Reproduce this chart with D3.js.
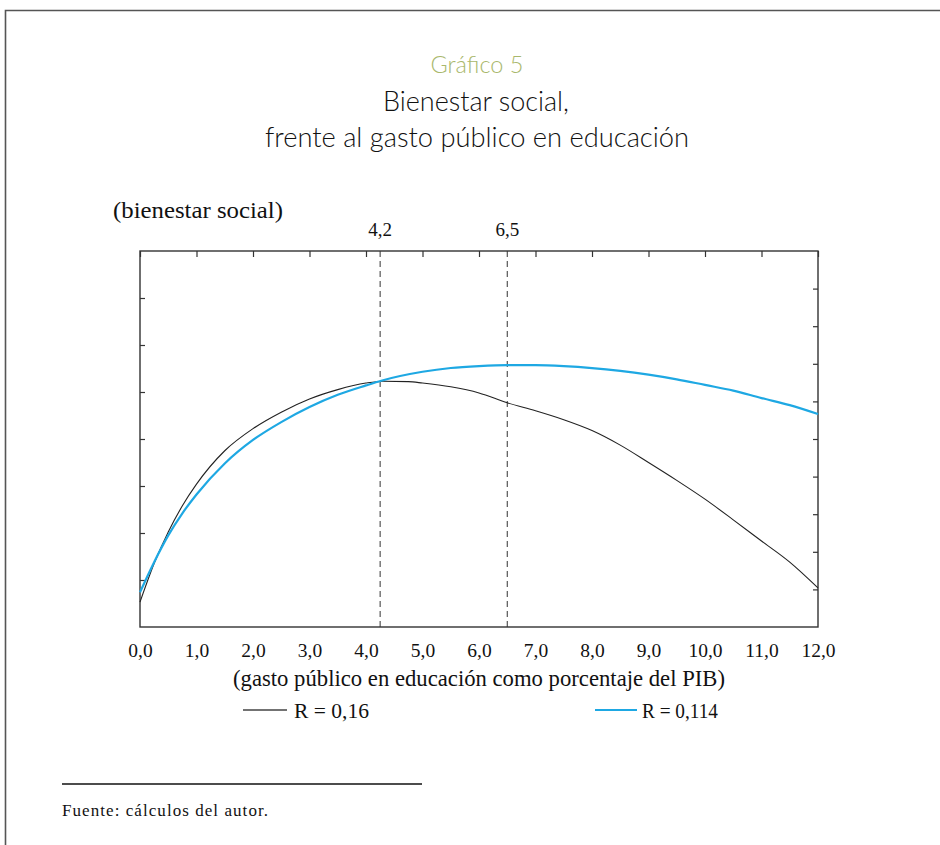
<!DOCTYPE html>
<html><head><meta charset="utf-8">
<script src="https://cdn.jsdelivr.net/npm/d3@7"></script>
<style>
html,body{margin:0;padding:0;background:#fff;}
svg{display:block;}
.serif{font-family:"Liberation Serif","Times New Roman",serif;fill:#111;}
.sans{font-family:Lato,"Open Sans",sans-serif;}
</style></head>
<body>
<script>
// ---- data ----
const xTickValues = [0,1,2,3,4,5,6,7,8,9,10,11,12];
const xTickLabels = ["0,0","1,0","2,0","3,0","4,0","5,0","6,0","7,0","8,0","9,0","10,0","11,0","12,0"];
const refLinePositions = [4.25, 6.5];
const refLineLabels = ["4,2", "6,5"];
const seriesNames = ["R = 0,16", "R = 0,114"];
const blackX = [0,0.25,0.5,0.75,1.0,1.5,2.0,2.5,3.0,3.5,4.0,4.3,4.75,5.0,5.5,6.0,6.5,7.0,7.5,8.0,8.5,9.0,9.5,10.0,10.5,11.0,11.5,12.0];
const blackY = [0.53,1.35,2.02,2.58,3.04,3.75,4.22,4.57,4.85,5.05,5.19,5.23,5.22,5.19,5.11,4.98,4.77,4.60,4.41,4.18,3.87,3.50,3.12,2.72,2.28,1.83,1.38,0.83];
const blueX = [0,0.25,0.5,0.75,1.0,1.5,2.0,2.5,3.0,3.5,4.0,4.27,5.0,5.5,6.0,6.5,7.0,7.5,8.0,8.5,9.0,9.5,10.0,10.5,11.0,11.5,12.0];
const blueY = [0.74,1.38,1.95,2.42,2.82,3.48,3.98,4.36,4.68,4.94,5.14,5.24,5.43,5.51,5.55,5.57,5.57,5.55,5.51,5.45,5.37,5.27,5.15,5.03,4.87,4.72,4.53];
const leftTicks = [1,2,3,4,5,6,7];
const rightTicks = [1,2,3,4,5,6,7,8,9];

// ---- layout ----
const W = 940, H = 845;
const L = 140, R = 818, T = 251, B = 627;
const svg = d3.select("body").append("svg").attr("width", W).attr("height", H);

// page border (top + left)
svg.append("path").attr("d", `M5.5,${H} V10.5 H${W}`).attr("fill","none").attr("stroke","#555").attr("stroke-width",1.6);

// titles
svg.append("text").attr("class","sans").attr("x",477).attr("y",73).attr("text-anchor","middle")
  .attr("font-size",23.5).attr("font-weight",300).attr("fill","#a9b86c").text("Gráfico 5");
svg.append("text").attr("class","sans").attr("x",476).attr("y",111).attr("text-anchor","middle")
  .attr("font-size",27).attr("font-weight",300).attr("fill","#111")
  .attr("textLength",186).attr("lengthAdjust","spacingAndGlyphs").text("Bienestar social,");
svg.append("text").attr("class","sans").attr("x",477).attr("y",147).attr("text-anchor","middle")
  .attr("font-size",27).attr("font-weight",300).attr("fill","#111")
  .attr("textLength",424).attr("lengthAdjust","spacingAndGlyphs").text("frente al gasto público en educación");

// scales
const x = d3.scaleLinear().domain([0,12]).range([L,R]);
const y = d3.scaleLinear().domain([0,8]).range([B,T]);
const yR = d3.scaleLinear().domain([0,10]).range([B,T]);

// y label
svg.append("text").attr("class","serif").attr("x",113).attr("y",218).attr("font-size",22.5)
  .attr("textLength",170).attr("lengthAdjust","spacingAndGlyphs").text("(bienestar social)");

// frame
svg.append("rect").attr("x",L).attr("y",T).attr("width",R-L).attr("height",B-T)
  .attr("fill","none").attr("stroke","#333").attr("stroke-width",1.4);

// top ticks (inward)
const gTop = svg.append("g").attr("transform",`translate(0,${T})`)
  .call(d3.axisTop(x).tickValues(xTickValues).tickSize(-6).tickFormat(""));
gTop.select(".domain").remove();
gTop.selectAll("line").attr("stroke","#333").attr("stroke-width",1.2);

// left ticks
const gLeft = svg.append("g").attr("transform",`translate(${L},0)`)
  .call(d3.axisLeft(y).tickValues(leftTicks).tickSize(-5).tickFormat(""));
gLeft.select(".domain").remove();
gLeft.selectAll("line").attr("stroke","#333").attr("stroke-width",1.2);

// right ticks
const gRight = svg.append("g").attr("transform",`translate(${R},0)`)
  .call(d3.axisRight(yR).tickValues(rightTicks).tickSize(-5).tickFormat(""));
gRight.select(".domain").remove();
gRight.selectAll("line").attr("stroke","#333").attr("stroke-width",1.2);

// bottom labels
const gBot = svg.append("g").attr("transform",`translate(0,${B})`)
  .call(d3.axisBottom(x).tickValues(xTickValues).tickSize(0).tickPadding(16)
    .tickFormat((d,i)=>xTickLabels[i]));
gBot.select(".domain").remove();
gBot.selectAll("text").attr("class","serif").attr("font-size",19.5).attr("fill","#111");

// reference lines
refLinePositions.forEach((v,i)=>{
  svg.append("line").attr("x1",x(v)).attr("x2",x(v)).attr("y1",T).attr("y2",B)
    .attr("stroke","#333").attr("stroke-width",1).attr("stroke-dasharray","6,4");
  svg.append("text").attr("class","serif").attr("x",x(v)).attr("y",236).attr("text-anchor","middle")
    .attr("font-size",19).text(refLineLabels[i]);
});

// curves
const line = d3.line().x(d=>x(d[0])).y(d=>y(d[1])).curve(d3.curveMonotoneX);
svg.append("path").datum(blackX.map((v,i)=>[v,blackY[i]])).attr("d",line)
  .attr("fill","none").attr("stroke","#222").attr("stroke-width",1.1);
svg.append("path").datum(blueX.map((v,i)=>[v,blueY[i]])).attr("d",line)
  .attr("fill","none").attr("stroke","#1ea8e3").attr("stroke-width",2.2);

// x label
svg.append("text").attr("class","serif").attr("x",479).attr("y",686).attr("text-anchor","middle")
  .attr("font-size",22.5).attr("textLength",492).attr("lengthAdjust","spacingAndGlyphs")
  .text("(gasto público en educación como porcentaje del PIB)");

// legend
svg.append("line").attr("x1",243).attr("x2",287).attr("y1",710).attr("y2",710).attr("stroke","#444").attr("stroke-width",1.3);
svg.append("text").attr("class","serif").attr("x",294).attr("y",718).attr("font-size",22)
  .attr("textLength",75).attr("lengthAdjust","spacingAndGlyphs").text(seriesNames[0]);
svg.append("line").attr("x1",595).attr("x2",637).attr("y1",710).attr("y2",710).attr("stroke","#1ea8e3").attr("stroke-width",2);
svg.append("text").attr("class","serif").attr("x",642).attr("y",718).attr("font-size",22)
  .attr("textLength",76).attr("lengthAdjust","spacingAndGlyphs").text(seriesNames[1]);

// footer
svg.append("line").attr("x1",62).attr("x2",422).attr("y1",784).attr("y2",784).attr("stroke","#111").attr("stroke-width",1.3);
svg.append("text").attr("class","serif").attr("x",62).attr("y",816).attr("font-size",17)
  .attr("textLength",206).attr("lengthAdjust","spacing").text("Fuente: cálculos del autor.");
</script>
</body></html>
